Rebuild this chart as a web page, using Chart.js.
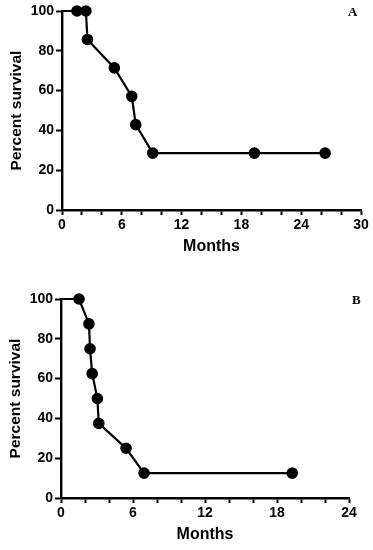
<!DOCTYPE html>
<html>
<head>
<meta charset="utf-8">
<script src="https://cdn.jsdelivr.net/npm/chart.js@4"></script>
<style>
  body { margin: 0; background: #fff; }
  #wrap { position: relative; width: 373px; height: 550px; }
  .panel { position: absolute; left: 0; width: 373px; }
  .tag { position: absolute; font: bold 13px "Liberation Serif", serif; color: #000; }
</style>
</head>
<body>
<div id="wrap">
  <div class="panel" style="top:0;height:256px"><canvas id="chartA"></canvas></div>
  <div class="panel" style="top:288px;height:256px"><canvas id="chartB"></canvas></div>
  <div class="tag" style="left:348px;top:4px">A</div>
  <div class="tag" style="left:352px;top:292px">B</div>
</div>
<script>
// panel A - months vs percent survival (first point is the curve start, no marker)
monthsA = [0, 1.5, 2.4, 2.55, 5.25, 7.0, 7.4, 9.1, 19.3, 26.4]
survivalA = [100, 100, 100, 85.7, 71.4, 57.1, 42.9, 28.6, 28.6, 28.6]

// panel B
monthsB = [0, 1.5, 2.33, 2.42, 2.6, 3.03, 3.15, 5.42, 6.92, 19.27]
survivalB = [100, 100, 87.5, 75, 62.5, 50, 37.5, 25, 12.5, 12.5]

yTicks = [0, 20, 40, 60, 80, 100]
xMaxA = 30
xMaxB = 24

font = "'Liberation Sans', Arial, sans-serif"

makeChart = (id, xs, ys, xMax, axisW, padRight, titlePadLeft) => {
  pts = []
  for (let i = 0; i < xs.length; i++) {
    pts.push({x: xs[i], y: ys[i]})
  }
  radii = xs.map((v, i) => i == 0 ? 0 : 4.7)
  return new Chart(document.getElementById(id), {
    type: 'scatter',
    data: {
      datasets: [{
        data: pts,
        showLine: true,
        borderColor: '#000',
        borderWidth: 2.2,
        backgroundColor: '#000',
        pointBackgroundColor: '#000',
        pointBorderColor: '#000',
        pointRadius: radii,
        pointHoverRadius: radii,
        clip: false
      }]
    },
    options: {
      responsive: true,
      maintainAspectRatio: false,
      animation: false,
      events: [],
      layout: { padding: { top: 11, right: padRight, left: 0, bottom: 0 } },
      plugins: { legend: { display: false }, tooltip: { enabled: false } },
      scales: {
        x: {
          type: 'linear',
          min: 0,
          max: xMax,
          afterFit: (s) => { s.height = 46 },
          border: { display: true, color: '#000', width: 2.4 },
          grid: { drawOnChartArea: false, color: '#000', tickColor: '#000', tickLength: 5, tickWidth: 2 },
          ticks: {
            stepSize: 2,
            autoSkip: false,
            maxRotation: 0,
            padding: 2,
            color: '#000',
            font: { family: font, size: 14, weight: 'bold' },
            callback: (v) => v % 6 == 0 ? String(v) : ''
          },
          title: {
            display: true,
            text: 'Months',
            color: '#000',
            padding: 0,
            font: { family: font, size: 16, weight: 'bold' }
          }
        },
        y: {
          min: 0,
          max: 100,
          afterFit: (s) => { s.width = axisW },
          afterBuildTicks: (s) => { s.ticks = yTicks.map(v => ({value: v})) },
          border: { display: true, color: '#000', width: 2.4 },
          grid: { drawOnChartArea: false, color: '#000', tickColor: '#000', tickLength: 6, tickWidth: 2 },
          ticks: {
            padding: 2,
            color: '#000',
            font: { family: font, size: 14, weight: 'bold' }
          },
          title: {
            display: true,
            text: 'Percent survival',
            color: '#000',
            padding: { top: titlePadLeft, bottom: 0 },
            font: { family: font, size: 15.5, weight: 'bold' }
          }
        }
      }
    }
  })
}

charts = []
charts.push(makeChart('chartA', monthsA, survivalA, xMaxA, 62, 12, 7))
charts.push(makeChart('chartB', monthsB, survivalB, xMaxB, 61, 24, 6))
</script>
</body>
</html>
